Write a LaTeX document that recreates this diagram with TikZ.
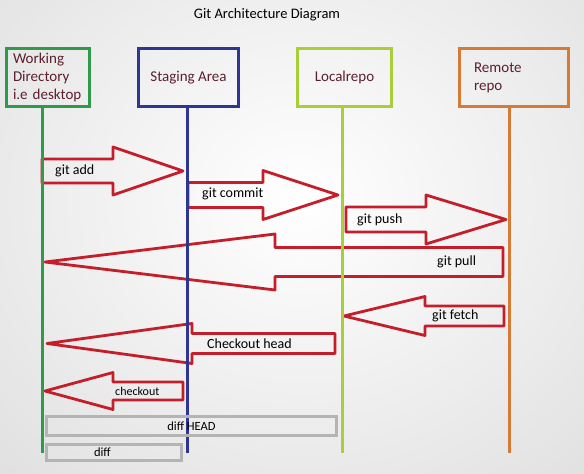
\documentclass[tikz,border=0pt]{standalone}
\usepackage{fontspec}
\setmainfont{Carlito}
\definecolor{wdgreen}{HTML}{2F9A4A}
\definecolor{sablue}{HTML}{2E3592}
\definecolor{lrlime}{HTML}{A9CF38}
\definecolor{rrorange}{HTML}{D57B36}
\definecolor{arrred}{HTML}{C41E2A}
\definecolor{boxtext}{HTML}{5C1F2E}
\definecolor{diffgray}{HTML}{B4B4B4}

\begin{document}
\begin{tikzpicture}[x=1pt, y=-1pt,
		every node/.style={
			font=\fontsize{15}{18}\selectfont
		},
		box/.style={
			rectangle,
			draw,
			line width=3pt,
			text=boxtext,
			align=left,
			inner sep=2pt,
			minimum height=58pt
		},
		life/.style={
			line width=3pt
		},
		blk/.style={
			draw=arrred,
			line width=2.8pt,
			line join=round
		},
		lbl/.style={
			anchor=west,
			inner sep=0pt,
			font=\fontsize{14}{16}\selectfont
		},
		diffbox/.style={
			rectangle,
			draw=diffgray,
			line width=3pt,
			inner sep=0pt,
			font=\fontsize{12.5}{15}\selectfont
		}]

		\useasboundingbox (0,0) rectangle (584,474);
		\begin{scope}
			\clip (0,0) rectangle (584,474);
			\shade[inner color=white, outer color=black!16] (-280,-310) rectangle (880,710);
		\end{scope}

		\node[font=\fontsize{14.5}{17}\selectfont] (title) at (267,15) {Git Architecture Diagram};

		%boxes
		\node[box, draw=wdgreen, minimum width=83pt, text width=70pt] (wd) at (48,77.5) {Working\\Directory\\i.e desktop};
		\node[box, draw=sablue, minimum width=100pt] (sa) at (188.5,77.5) {Staging Area};
		\node[box, draw=lrlime, minimum width=94pt] (lr) at (344.5,77.5) {Localrepo};
		\node[box, draw=rrorange, minimum width=109pt, text width=80pt] (rr) at (514,77.5) {Remote\\repo};

		%commands
		\foreach \tl/\bs/\tp/\my/\sh/\hh in {42/113/183/171/12/24, 188/263/338/195/12.5/24.5,
				346/426/506/219.5/12.5/24.5, 503/275/45/262/14.5/28, 504/425/344/316/10/19.5,
				335/192/47/343.5/10/20, 183/113/45/391/9/18.5}
			\draw[blk] (\tl,\my-\sh) -- (\bs,\my-\sh) -- (\bs,\my-\hh) -- (\tp,\my)
				-- (\bs,\my+\hh) -- (\bs,\my+\sh) -- (\tl,\my+\sh) -- cycle;

		\node[lbl] (add) at (55,171) {git add};
		\node[lbl] (commit) at (202,194) {git commit};
		\node[lbl] (push) at (357,220) {git push};
		\node[lbl] (pull) at (437,262) {git pull};
		\node[lbl] (fetch) at (432,316) {git fetch};
		\node[lbl] (cohead) at (207,344) {Checkout head};
		\node[lbl, font=\fontsize{12}{14}\selectfont] (co) at (115,391) {checkout};

		%lifelines
		\coordinate (bot) at (0,453);
		\coordinate (wdl) at ([xshift=-6pt]wd.south);
		\coordinate (sal) at ([xshift=-1.5pt]sa.south);
		\coordinate (lrl) at ([xshift=-2.5pt]lr.south);
		\coordinate (rrl) at ([xshift=-5pt]rr.south);
		\draw[life, wdgreen] (wdl) -- (wdl |- bot);
		\draw[life, sablue] (sal) -- (sal |- bot);
		\draw[life, lrlime] (lrl) -- (lrl |- bot);
		\draw[life, rrorange] (rrl) -- (rrl |- bot);

		\node[diffbox, minimum width=290pt, minimum height=19pt] (diffhead) at (191.5,426) {diff HEAD};
		\node[diffbox, minimum width=135pt, minimum height=16pt, text width=40pt, align=left] (diff) at (114,452.5) {diff};

	\end{tikzpicture}
\end{document}
